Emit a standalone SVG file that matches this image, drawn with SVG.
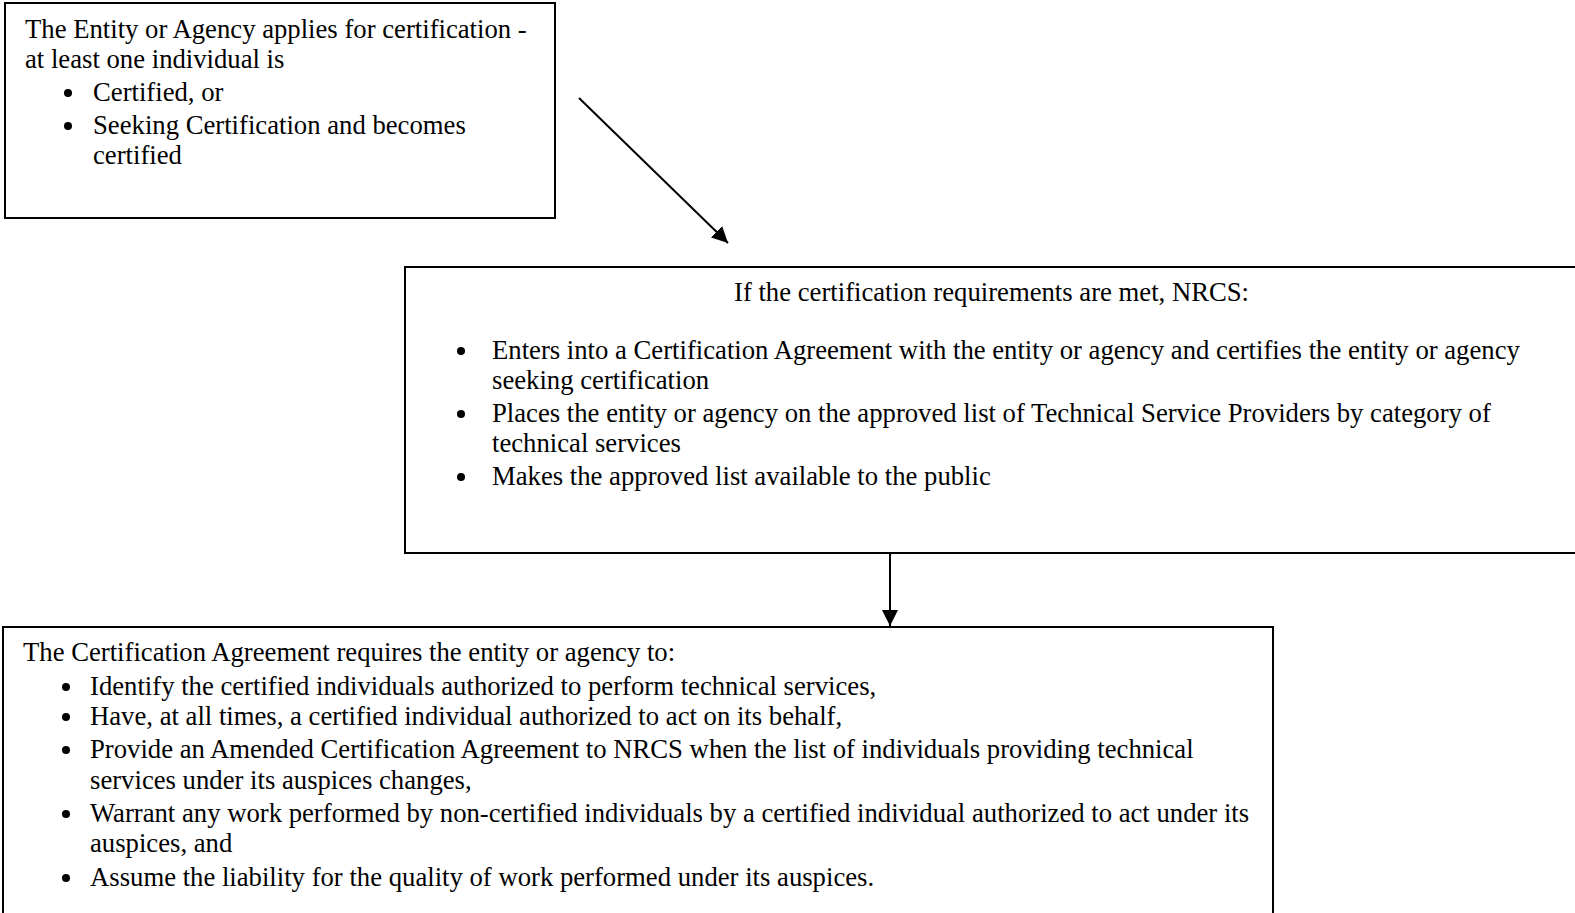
<svg xmlns="http://www.w3.org/2000/svg" width="1575" height="913" viewBox="0 0 1575 913">
<style>
.box{fill:#fff;stroke:#000;stroke-width:2}
text{font-family:"Liberation Serif","Times New Roman",serif;font-size:26.7px;fill:#000}
.conn{stroke:#000;stroke-width:2;fill:none}
.bul{fill:#000}
</style>
<defs>
<marker id="arr" viewBox="0 0 10 10" refX="10" refY="5" markerWidth="16" markerHeight="16" markerUnits="userSpaceOnUse" orient="auto">
<path d="M0,0 L10,5 L0,10 z" fill="#000"/>
</marker>
</defs>
<rect width="1575" height="913" fill="#fff"/>
<g id="node1">
<rect class="box" x="5" y="3" width="550" height="215"/>
<text x="25" y="38">The Entity or Agency applies for certification -</text>
<text x="25" y="68">at least one individual is</text>
<circle class="bul" cx="68" cy="93" r="4"/><text x="93" y="101">Certified, or</text>
<circle class="bul" cx="68" cy="126" r="4"/><text x="93" y="134">Seeking Certification and becomes</text>
<text x="93" y="164">certified</text>
</g>
<g id="node2">
<rect class="box" x="405" y="267" width="1180" height="286"/>
<text x="734" y="301">If the certification requirements are met, NRCS:</text>
<circle class="bul" cx="461" cy="351" r="4"/><text x="492" y="359">Enters into a Certification Agreement with the entity or agency and certifies the entity or agency</text>
<text x="492" y="389">seeking certification</text>
<circle class="bul" cx="461" cy="414" r="4"/><text x="492" y="422">Places the entity or agency on the approved list of Technical Service Providers by category of</text>
<text x="492" y="452">technical services</text>
<circle class="bul" cx="461" cy="477" r="4"/><text x="492" y="485">Makes the approved list available to the public</text>
</g>
<g id="node3">
<rect class="box" x="3" y="627" width="1270" height="300"/>
<text x="23" y="661">The Certification Agreement requires the entity or agency to:</text>
<circle class="bul" cx="66" cy="687" r="4"/><text x="90" y="695">Identify the certified individuals authorized to perform technical services,</text>
<circle class="bul" cx="66" cy="717" r="4"/><text x="90" y="725">Have, at all times, a certified individual authorized to act on its behalf,</text>
<circle class="bul" cx="66" cy="750" r="4"/><text x="90" y="758">Provide an Amended Certification Agreement to NRCS when the list of individuals providing technical</text>
<text x="90" y="789">services under its auspices changes,</text>
<circle class="bul" cx="66" cy="814" r="4"/><text x="90" y="822">Warrant any work performed by non-certified individuals by a certified individual authorized to act under its</text>
<text x="90" y="852">auspices, and</text>
<circle class="bul" cx="66" cy="878" r="4"/><text x="90" y="886">Assume the liability for the quality of work performed under its auspices.</text>
</g>
<g id="connectors">
<line class="conn" x1="579" y1="98" x2="728" y2="243" marker-end="url(#arr)"/>
<line class="conn" x1="890" y1="553" x2="890" y2="626" marker-end="url(#arr)"/>
</g>
</svg>
